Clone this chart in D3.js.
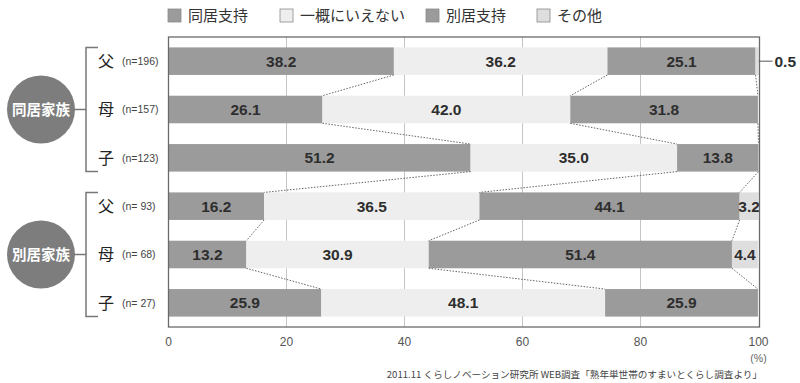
<!DOCTYPE html>
<html>
<head>
<meta charset="utf-8">
<script src="https://cdn.jsdelivr.net/npm/d3@7"></script>
<style>
  body { margin: 0; background: #fff; }
  svg { display: block; }
</style>
</head>
<body>
<div id="chart"></div>
<script>
// data
var categories = ["父", "母", "子", "父", "母", "子"];
var sampleSizes = ["(n=196)", "(n=157)", "(n=123)", "(n= 93)", "(n= 68)", "(n= 27)"];
var groups = ["同居家族", "別居家族"];
var seriesNames = ["同居支持", "一概にいえない", "別居支持", "その他"];
var dokyoShiji = [38.2, 26.1, 51.2, 16.2, 13.2, 25.9];
var ichigai = [36.2, 42.0, 35.0, 36.5, 30.9, 48.1];
var bekkyoShiji = [25.1, 31.8, 13.8, 44.1, 51.4, 25.9];
var sonota = [0.5, 0, 0, 3.2, 4.4, 0];
var ticks = [0, 20, 40, 60, 80, 100];
var source = "2011.11 くらしノベーション研究所 WEB調査「熟年単世帯のすまいとくらし調査より」";

var series = [dokyoShiji, ichigai, bekkyoShiji, sonota];
var fills = ["#9b9b9b", "#eeeeee", "#9b9b9b", "#dedede"];

var W = 800, H = 383;
var jp = "'Noto Sans CJK JP', 'Noto Sans', sans-serif";
var num = "'Liberation Sans', Arial, sans-serif";

var svg = d3.select("#chart").append("svg").attr("width", W).attr("height", H);

var x = d3.scaleLinear().domain([0, 100]).range([168.5, 758.5]);
var y = d3.scaleBand().domain(d3.range(categories.length)).range([37, 327])
    .paddingInner(0.43).paddingOuter(0.215);

// build stacked segments
var rows = categories.map(function(c, i) {
    var acc = 0;
    var segs = series.map(function(s, k) {
        var seg = {k: k, x0: acc, x1: acc + s[i], v: s[i]};
        acc += s[i];
        return seg;
    });
    return {i: i, segs: segs};
});

// gridlines
svg.append("g").selectAll("line").data(ticks.slice(1, -1)).enter().append("line")
    .attr("x1", function(d) { return x(d); }).attr("x2", function(d) { return x(d); })
    .attr("y1", 37).attr("y2", 327)
    .attr("stroke", "#c4c4c4").attr("stroke-width", 1);

// bars
var rowG = svg.append("g").selectAll("g").data(rows).enter().append("g");
rowG.selectAll("rect").data(function(d) { return d.segs.filter(function(s) { return s.v > 0; })
        .map(function(s) { s.row = d.i; return s; }); })
    .enter().append("rect")
    .attr("x", function(d) { return x(d.x0); })
    .attr("width", function(d) { return x(d.x1) - x(d.x0); })
    .attr("y", function(d) { return y(d.row); })
    .attr("height", y.bandwidth())
    .attr("fill", function(d) { return fills[d.k]; });

// dotted connectors between consecutive rows
var conn = [];
for (var i = 0; i < rows.length - 1; i++) {
    for (var k = 0; k < 3; k++) {
        conn.push({a: rows[i].segs[k].x1, b: rows[i + 1].segs[k].x1, r: i});
    }
}
svg.append("g").selectAll("line").data(conn).enter().append("line")
    .attr("x1", function(d) { return x(d.a); })
    .attr("y1", function(d) { return y(d.r) + y.bandwidth(); })
    .attr("x2", function(d) { return x(d.b); })
    .attr("y2", function(d) { return y(d.r + 1); })
    .attr("stroke", "#666").attr("stroke-width", 1).attr("stroke-dasharray", "1.5,1.5");

// value labels
rowG.selectAll("text").data(function(d) {
        return d.segs.filter(function(s) { return s.v >= 1; })
            .map(function(s) { s.row = d.i; return s; });
    })
    .enter().append("text")
    .attr("x", function(d) { return x((d.x0 + d.x1) / 2); })
    .attr("y", function(d) { return y(d.row) + y.bandwidth() / 2; })
    .attr("dy", "0.36em")
    .attr("text-anchor", "middle")
    .attr("font-family", num).attr("font-weight", "bold").attr("font-size", 15.5)
    .attr("fill", "#2e2e2e")
    .text(function(d) { return d.v.toFixed(1); });

// small value outside the bar with leader
rows.forEach(function(r) {
    var s = r.segs[3];
    if (s.v > 0 && s.v < 1) {
        var cy = y(r.i) + y.bandwidth() / 2;
        svg.append("line").attr("x1", x(100)).attr("x2", x(100) + 14)
            .attr("y1", cy).attr("y2", cy).attr("stroke", "#555").attr("stroke-width", 1);
        svg.append("text").attr("x", x(100) + 16).attr("y", cy).attr("dy", "0.36em")
            .attr("font-family", num).attr("font-weight", "bold").attr("font-size", 15.5)
            .attr("fill", "#2e2e2e").text(s.v.toFixed(1));
    }
});

// frame
svg.append("rect").attr("x", x(0)).attr("y", 37).attr("width", x(100) - x(0) + 1).attr("height", 290)
    .attr("fill", "none").attr("stroke", "#6a6a6a").attr("stroke-width", 1.3);

// x axis labels
svg.append("g").selectAll("text").data(ticks).enter().append("text")
    .attr("x", function(d) { return x(d); }).attr("y", 346)
    .attr("text-anchor", "middle")
    .attr("font-family", num).attr("font-size", 12).attr("fill", "#555")
    .text(function(d) { return d; });
svg.append("text").attr("x", x(100)).attr("y", 362).attr("text-anchor", "middle")
    .attr("font-family", num).attr("font-size", 10.5).attr("fill", "#666").text("(%)");

// category labels
svg.append("g").selectAll("text").data(categories).enter().append("text")
    .attr("x", 106).attr("y", function(d, i) { return y(i) + y.bandwidth() / 2; })
    .attr("dy", "0.36em").attr("text-anchor", "middle")
    .attr("font-family", jp).attr("font-size", 16).attr("fill", "#222")
    .text(function(d) { return d; });
svg.append("g").selectAll("text").data(sampleSizes).enter().append("text")
    .attr("x", 122).attr("y", function(d, i) { return y(i) + y.bandwidth() / 2; })
    .attr("dy", "0.36em")
    .attr("font-family", num).attr("font-size", 10.5).attr("fill", "#444")
    .attr("xml:space", "preserve")
    .text(function(d) { return d; });

// group circles with brackets
groups.forEach(function(g, gi) {
    var top = y(gi * 3), bot = y(gi * 3 + 2) + y.bandwidth();
    var cy = (top + bot) / 2;
    var bx = 86;
    svg.append("path")
        .attr("d", "M98," + top + "H" + bx + "V" + bot + "H98M" + bx + "," + cy + "H70")
        .attr("fill", "none").attr("stroke", "#777").attr("stroke-width", 1.5);
    svg.append("circle").attr("cx", 41).attr("cy", cy).attr("r", 34).attr("fill", "#7d7d7d");
    svg.append("text").attr("x", 41).attr("y", cy).attr("dy", "0.36em").attr("text-anchor", "middle")
        .attr("font-family", jp).attr("font-weight", "bold").attr("font-size", 14.5)
        .attr("fill", "#fff").text(g);
});

// legend
var legX = [168, 280, 426, 537];
var leg = svg.append("g").selectAll("g").data(seriesNames).enter().append("g")
    .attr("transform", function(d, i) { return "translate(" + legX[i] + ",9)"; });
leg.append("rect").attr("width", 13).attr("height", 13)
    .attr("fill", function(d, i) { return fills[i]; })
    .attr("stroke", "#8a8a8a").attr("stroke-width", 0.8);
leg.append("text").attr("x", 20).attr("y", 6.5).attr("dy", "0.36em")
    .attr("font-family", jp).attr("font-size", 15).attr("fill", "#333")
    .text(function(d) { return d; });

// source note
svg.append("text").attr("x", 762).attr("y", 378).attr("text-anchor", "end")
    .attr("font-family", jp).attr("font-size", 9.6).attr("fill", "#444").text(source);
</script>
</body>
</html>
